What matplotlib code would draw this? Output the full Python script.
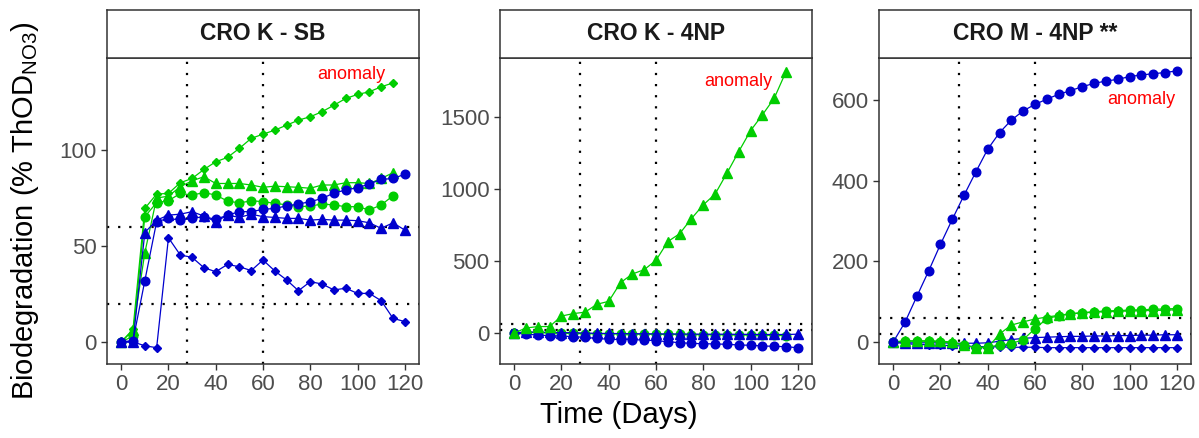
import numpy as np
import matplotlib
matplotlib.use('Agg')
import matplotlib.pyplot as plt

plt.rcParams['font.family'] = ['Liberation Sans', 'DejaVu Sans']
plt.rcParams['mathtext.fontset'] = 'custom'
plt.rcParams['mathtext.rm'] = 'Liberation Sans'
plt.rcParams['mathtext.it'] = 'Liberation Sans:italic'

# ---------------- data ----------------
days = np.arange(0, 125, 5)          # 0 ... 120
days_115 = days[:-1]                 # some series stop at day 115

titles = ['CRO K - SB', 'CRO K - 4NP', 'CRO M - 4NP **']

# CRO K - SB
sb_green_diamond = [0, 6.6, 69.6, 77.1, 77.4, 83, 85.2, 89.9, 93.9, 96.2, 100.9, 106.1, 108.3,
                    110.4, 113, 115.6, 117.4, 120, 123.4, 126.9, 129, 130.4, 133, 135]
sb_green_triangle = [0, 6, 46.5, 75, 76, 80.9, 84, 86.1, 82.6, 82.6, 82.6, 81.8, 80.6, 81.2,
                     80.9, 80.6, 80.1, 81.8, 81.8, 83, 83, 82.6, 85.2, 88.2]
sb_green_circle = [0, 3, 65.3, 72.6, 73.6, 77.4, 76.6, 77.8, 76.6, 73.4, 72.5, 73.5, 73.2, 72.2,
                   71.5, 70.5, 70.8, 71.9, 71.4, 70.5, 70.5, 68.8, 71.4, 76.2]
sb_blue_circle = [0, 0.7, 31.9, 62.7, 64.4, 63.5, 64.4, 65.3, 63.9, 66.1, 67.9, 67.9, 69.1, 69.6,
                  70.9, 71.9, 73.1, 74.8, 77.6, 79.2, 80.4, 82.3, 84.7, 85.2, 87.4]
sb_blue_triangle = [0, 0, 57, 63.5, 66.1, 66.6, 67.9, 65.6, 62.7, 66.1, 64.9, 66.6, 65.3, 64.9,
                    64.4, 64.4, 63.5, 63.9, 63.5, 63.5, 63.2, 62.1, 59.2, 62.1, 58.3]
sb_blue_diamond = [0, 0, -2, -3, 54.3, 45.3, 44.1, 38.7, 36.6, 40.4, 39.2, 37.2, 42.7, 37, 32.3,
                   26.7, 31.4, 30.2, 27.1, 28, 25.3, 25.3, 21.5, 12.3, 10.6]

# CRO K - 4NP
np_green_triangle = [0, 35, 45, 45, 118, 135, 145, 200, 220, 350, 410, 440, 505, 635, 690, 795,
                     890, 965, 1110, 1260, 1405, 1515, 1630, 1815]
np_green_circle = [0, 5, 3, 0, -2, -3, -5, -5, -6, -7, -8, -8, -9, -10, -10, -11, -12, -12, -13,
                   -14, -14, -15, -16, -18]
np_blue_triangle = [0, 8, 6, 4, 3, 2, 0, -2, -3, -4, -5, -5, -6, -6, -7, -7, -8, -8, -8, -9, -9,
                    -10, -10, -10, -8]
np_blue_circle = [0, -7, -14, -18, -21, -25, -30, -37, -44, -45, -46, -49, -53, -60, -67, -72,
                  -74, -76, -78, -83, -85, -90, -92, -95, -102]

# CRO M - 4NP
m_blue_circle = [0, 49, 113, 176, 242, 304, 364, 422, 478, 519, 550, 573, 589, 602, 614, 623,
                 633, 641, 647, 651, 658, 662, 665, 668, 672]
m_blue_triangle = [0, -2, -2, -2, -2, -3, -3, -3, -2, 2, 6, 9, 11, 12, 13, 14, 14, 15, 15, 16,
                   16, 17, 17, 18, 18]
m_blue_diamond = [0, -4, -6, -7, -8, -9, -10, -11, -12, -12, -13, -13, -13, -14, -14, -14, -14,
                  -14, -14, -14, -14, -14, -14, -14, -14]
m_green_triangle = [0, 3, 3, 3, 2, 0, -8, -14, -14, 20, 42, 50, 57, 62, 66, 70, 72, 74, 75, 76,
                    77, 78, 78, 79, 80]
m_green_circle = [0, 2, 2, 2, 1, -2, -8, -14, -12, -8, -4, 6, 33, 58, 65, 70, 73, 75, 77, 78, 79,
                  80, 81, 82, 83]

anomaly_pos = [(97.5, 139.5), (95, 1746), (105, 602)]
ylims = [(-11.5, 148), (-215, 1910), (-54.5, 704)]
yticks = [[0, 50, 100], [0, 500, 1000, 1500], [0, 200, 400, 600]]

GREEN = '#00CD00'
BLUE = '#0000CD'
marker_size = {'o': 6.2, '^': 6.8, 'D': 4.5}

panels = [
    [(days_115, sb_green_diamond, GREEN, 'D'), (days_115, sb_green_triangle, GREEN, '^'),
     (days_115, sb_green_circle, GREEN, 'o'), (days, sb_blue_circle, BLUE, 'o'),
     (days, sb_blue_triangle, BLUE, '^'), (days, sb_blue_diamond, BLUE, 'D')],
    [(days_115, np_green_circle, GREEN, 'o'), (days, np_blue_triangle, BLUE, '^'),
     (days, np_blue_circle, BLUE, 'o'), (days_115, np_green_triangle, GREEN, '^')],
    [(days, m_blue_diamond, BLUE, 'D'), (days, m_blue_triangle, BLUE, '^'),
     (days, m_green_triangle, GREEN, '^'), (days, m_green_circle, GREEN, 'o'),
     (days, m_blue_circle, BLUE, 'o')],
]

# ---------------- layout ----------------
W, H = 1199, 438
fig = plt.figure(figsize=(W / 100, H / 100), dpi=100)
lefts = [107, 500, 879]
pw = 312
top, bottom = 58, 364
strip_top = 10

for i, ax_left in enumerate(lefts):
    ax = fig.add_axes([ax_left / W, 1 - bottom / H, pw / W, (bottom - top) / H])
    for x, y, c, m in panels[i]:
        ax.plot(x, y, color=c, lw=0.9, marker=m, ms=marker_size[m], mec=c, mfc=c, zorder=3)
    dot = dict(color='black', lw=1.6, ls=(0, (1, 4)), dash_capstyle='butt', zorder=2)
    for v in (28, 60):
        ax.axvline(v, **dot)
    for h in (20, 60):
        ax.axhline(h, **dot)
    ax.text(*anomaly_pos[i], 'anomaly', color='red', fontsize=13, ha='center', va='center')
    ax.set_xlim(-6, 126)
    ax.set_ylim(*ylims[i])
    ax.set_xticks(range(0, 121, 20))
    ax.set_yticks(yticks[i])
    ax.tick_params(labelsize=16, labelcolor='#4D4D4D', color='#333333', length=4, width=1)
    for s in ax.spines.values():
        s.set_color('#333333')
        s.set_linewidth(1.1)

    sax = fig.add_axes([ax_left / W, 1 - top / H, pw / W, (top - strip_top) / H])
    sax.set_xticks([])
    sax.set_yticks([])
    for s in sax.spines.values():
        s.set_color('#333333')
        s.set_linewidth(1.1)
    sax.text(0.5, 0.5, titles[i], ha='center', va='center', fontsize=16.5,
             fontweight='bold', color='#1A1A1A', transform=sax.transAxes)

fig.text(619 / W, 1 - 415 / H, 'Time (Days)', ha='center', va='center', fontsize=21)
fig.text(25 / W, 1 - 211 / H, 'Biodegradation (% ThOD$_{\\mathrm{NO3}}$)', rotation=90,
         ha='center', va='center', fontsize=21)

fig.savefig('out.png', dpi=100)
